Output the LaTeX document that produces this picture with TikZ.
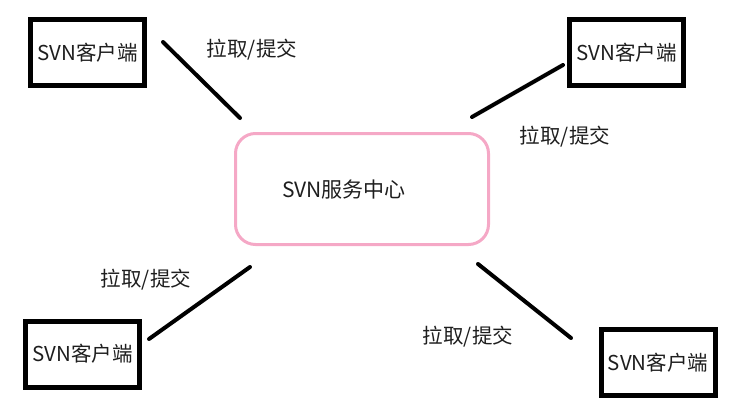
\documentclass[tikz,border=0pt]{standalone}
\usepackage{fontspec}
\setmainfont{Noto Sans CJK SC}
\definecolor{pinkline}{RGB}{245,168,198}
\definecolor{txt}{RGB}{30,30,30}
\begin{document}
\begin{tikzpicture}[x=1pt,y=-1pt,
  client/.style={draw=black,line width=5pt,minimum width=114pt,minimum height=66pt,inner sep=0pt,text=txt,font=\fontsize{20.5}{22}\selectfont},
  server/.style={draw=pinkline,line width=3pt,rounded corners=20pt,minimum width=253pt,minimum height=111pt,inner sep=0pt},
  conn/.style={line width=4pt,line cap=round,black},
  lbl/.style={text=txt,font=\fontsize{20.5}{22}\selectfont,inner sep=0pt}]
\useasboundingbox (0,0) rectangle (732,408);
\node[client] (c1) at (87.5,52.5) {SVN客户端};
\node[client] (c2) at (626.5,52.5) {SVN客户端};
\node[client] (c3) at (82.5,354) {SVN客户端};
\node[client] (c4) at (658,362.5) {SVN客户端};
\node[server] (s) at (362,189) {};
\node[text=txt,font=\fontsize{21}{23}\selectfont,inner sep=0pt] (st) at (344,190) {SVN服务中心};
\coordinate (a1) at (163,42); \coordinate (b1) at (240,118);
\coordinate (a2) at (563,65); \coordinate (b2) at (472,117);
\coordinate (a3) at (149,339); \coordinate (b3) at (250,267);
\coordinate (a4) at (571,338); \coordinate (b4) at (478,264);
\draw[conn] (a1) -- (b1);
\draw[conn] (a2) -- (b2);
\draw[conn] (a3) -- (b3);
\draw[conn] (a4) -- (b4);
\node[lbl] (l1) at (252,50) {拉取/提交};
\node[lbl] (l2) at (565,137) {拉取/提交};
\node[lbl] (l3) at (146,280) {拉取/提交};
\node[lbl] (l4) at (468,337) {拉取/提交};
\end{tikzpicture}
\end{document}
